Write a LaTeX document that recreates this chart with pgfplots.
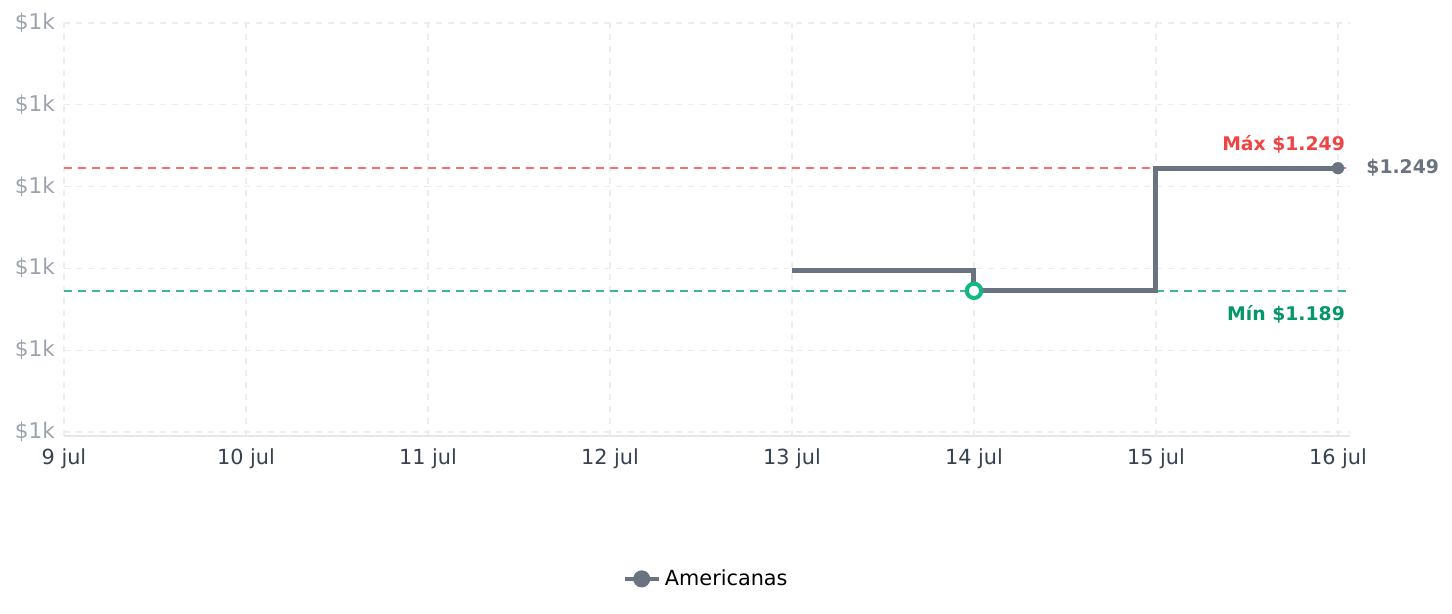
\documentclass[border=0pt]{standalone}
\usepackage{pgfplots}
\pgfplotsset{compat=1.18}
\usepackage{fontspec}
\setmainfont{DejaVu Sans}
\definecolor{linegray}{HTML}{6B7280}
\definecolor{ticky}{HTML}{9CA3AF}
\definecolor{tickx}{HTML}{374151}
\definecolor{gridc}{HTML}{EDEDED}
\definecolor{axc}{HTML}{E5E7EB}
\definecolor{maxred}{HTML}{EF4444}
\definecolor{maxline}{HTML}{F87171}
\definecolor{mingreen}{HTML}{059669}
\definecolor{minline}{HTML}{3DBA8C}
\definecolor{minmark}{HTML}{10B981}
\begin{document}
\begin{tikzpicture}
\path[use as bounding box] (-32pt,-89pt) rectangle (694pt,218pt);
\begin{axis}[
  at={(0,0)}, anchor=south west,
  scale only axis,
  width=643pt, height=206.5pt,
  xmin=9, xmax=16.066,
  ymin=1118, ymax=1320,
  xtick={9,10,11,12,13,14,15,16},
  xticklabels={9 jul,10 jul,11 jul,12 jul,13 jul,14 jul,15 jul,16 jul},
  ytick={1120,1160,1200,1240,1280,1320},
  yticklabels={\$1k,\$1k,\$1k,\$1k,\$1k,\$1k},
  /pgf/number format/assume math mode=true,
  x tick label style={font=\fontsize{10.4}{12}\selectfont, text=tickx, yshift=-3pt},
  y tick label style={font=\fontsize{10.8}{12}\selectfont, text=ticky, xshift=-1pt},
  major tick length=0pt,
  axis x line*=bottom,
  axis y line*=left,
  x axis line style={draw=axc, line width=1pt, -},
  y axis line style={draw=none},
  grid=major,
  major grid style={draw=gridc, line width=0.6pt, dash pattern=on 3pt off 3pt},
  clip=false,
  legend style={at={(0.5,-0.346)}, anchor=center, draw=none, fill=none,
    font=\fontsize{10.4}{12}\selectfont, legend cell align=left},
  legend image code/.code={
    \draw[#1, line width=2.2pt] (0cm,0cm) -- (0.6cm,0cm);
    \fill[linegray] (0.3cm,0cm) circle (3pt);
  },
]
\addplot[draw=maxline, line width=0.8pt, dash pattern=on 4pt off 3pt, forget plot] coordinates {(9,1249) (16.066,1249)};
\addplot[draw=minline, line width=0.8pt, dash pattern=on 4pt off 3pt, forget plot] coordinates {(9,1189) (16.066,1189)};
\addplot[const plot, draw=linegray, line width=2.5pt, mark=*, mark indices={4},
  mark options={fill=linegray, draw=linegray, line width=0.1pt}, mark size=3pt]
  coordinates {(13,1199) (14,1189) (15,1249) (16,1249)};
\addlegendentry{Americanas}
\addplot[only marks, mark=*, mark size=3.6pt,
  mark options={fill=white, draw=minmark, line width=2pt}, forget plot]
  coordinates {(14,1189)};
\node[anchor=south east, text=maxred, font=\bfseries\fontsize{9.4}{11}\selectfont, inner sep=0pt] at (axis cs:16.04,1256.2) {Máx \$1.249};
\node[anchor=north east, text=mingreen, font=\bfseries\fontsize{9.4}{11}\selectfont, inner sep=0pt] at (axis cs:16.04,1181.8) {Mín \$1.189};
\node[anchor=west, text=linegray, font=\bfseries\fontsize{9.4}{11}\selectfont, inner sep=0pt] at (axis cs:16.154,1249) {\$1.249};
\end{axis}
\end{tikzpicture}
\end{document}
